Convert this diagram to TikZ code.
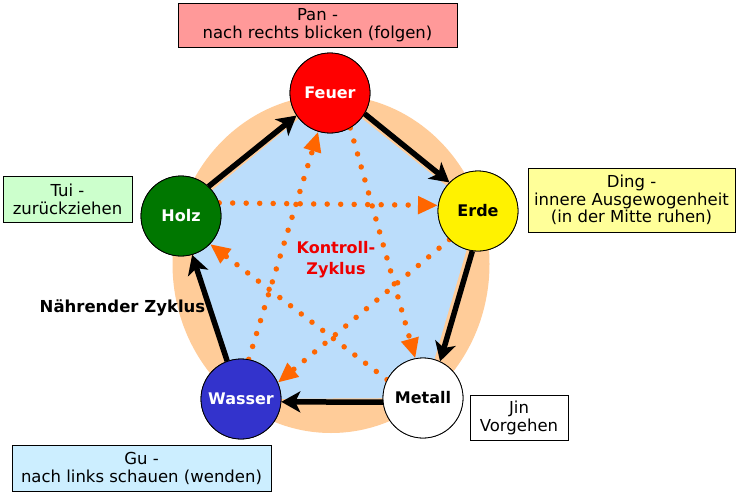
\documentclass[tikz,border=0pt]{standalone}
\usepackage{fontspec}
\setmainfont{DejaVu Sans}
\usetikzlibrary{arrows.meta}
\definecolor{peach}{HTML}{FFCC99}
\definecolor{paleblue}{RGB}{187,221,251}
\definecolor{dotorange}{HTML}{FF6600}
\definecolor{panfill}{HTML}{FF9999}
\definecolor{tuifill}{HTML}{CCFFCC}
\definecolor{dingfill}{HTML}{FFFF99}
\definecolor{gufill}{HTML}{CCEEFF}
\definecolor{wasserblue}{HTML}{3333CC}
\definecolor{holzgreen}{HTML}{007700}
\definecolor{kred}{HTML}{EE0000}
\begin{document}
\begin{tikzpicture}[x=1pt,y=-1pt,
  elem/.style={circle,draw=black,line width=0.8pt,minimum size=80pt,inner sep=0pt,
    font=\fontsize{16}{18}\selectfont\bfseries},
  lab/.style={draw=black,line width=0.8pt,align=center,inner sep=0pt,
    font=\fontsize{16.5}{18}\selectfont},
  nourish/.style={draw=black,line width=5.5pt,-{Stealth[length=19pt,width=21pt,inset=5pt]}},
  control/.style={draw=dotorange,line width=5.5pt,dash pattern=on 0pt off 13.5pt,line cap=round,
    -{Triangle[length=20pt,width=17pt]}}
]
\useasboundingbox (0,0) rectangle (744,495);
\fill[white] (0,0) rectangle (744,495);
% centres
\coordinate (cF) at (330,93);
\coordinate (cE) at (478,211);
\coordinate (cM) at (423,398);
\coordinate (cW) at (241,399);
\coordinate (cH) at (181,216);
% background shapes
\fill[peach] (331,264) ellipse [x radius=158.5pt, y radius=169pt];
\fill[paleblue] (cF) -- (cE) -- (cM) -- (cW) -- (cH) -- cycle;
% circles (named, drawn later on top)
\path (cF) node[elem,fill=red,text=white] (Feuer) {Feuer};
\path (cE) node[elem,fill=yellow,text=black] (Erde) {Erde};
\path (cM) node[elem,fill=white,text=black] (Metall) {Metall};
\path (cW) node[elem,fill=wasserblue,text=white] (Wasser) {Wasser};
\path (cH) node[elem,fill=holzgreen,text=white] (Holz) {Holz};
% control cycle
\draw[control] (Holz.19) -- (Erde.172);
\draw[control] (Feuer.-60) -- (Metall.101);
\draw[control] (Erde.-135) -- (Wasser.24);
\draw[control] (Wasser.79) -- (Feuer.-107);
\draw[control] (Metall.153) -- (Holz.-44);
% nourishing cycle
\draw[nourish] (Holz.47) -- (Feuer.-146);
\draw[nourish] (Feuer.-31) -- (Erde.135);
\draw[nourish] (Erde.-98) -- (Metall.65);
\draw[nourish] (Metall.-174) -- (Wasser.-4);
\draw[nourish] (Wasser.110) -- (Holz.-74);
% redraw circles on top
\path (cF) node[elem,fill=red,text=white] {Feuer};
\path (cE) node[elem,fill=yellow,text=black] {Erde};
\path (cM) node[elem,fill=white,text=black] {Metall};
\path (cW) node[elem,fill=wasserblue,text=white] {Wasser};
\path (cH) node[elem,fill=holzgreen,text=white] {Holz};
% texts
\node[align=center,text=kred,font=\fontsize{16}{21}\selectfont\bfseries] (kz) at (336,260) {Kontroll-\\Zyklus};
\node[font=\fontsize{16.5}{18}\selectfont\bfseries] (nz) at (122.5,308) {Nährender Zyklus};
% label boxes
\node[lab,fill=panfill,minimum width=279pt,minimum height=44pt] (pan) at (317.5,25) {Pan -\\nach rechts blicken (folgen)};
\node[lab,fill=tuifill,minimum width=129pt,minimum height=46pt] (tui) at (67.5,199) {Tui -\\zurückziehen};
\node[lab,fill=dingfill,minimum width=207pt,minimum height=64pt,font=\fontsize{16.5}{17.5}\selectfont] (ding) at (631.5,200) {Ding -\\innere Ausgewogenheit\\(in der Mitte ruhen)};
\node[lab,fill=white,minimum width=98pt,minimum height=45pt] (jin) at (519,417.5) {Jin\\Vorgehen};
\node[lab,fill=gufill,minimum width=259pt,minimum height=46pt] (gu) at (141.5,468) {Gu -\\nach links schauen (wenden)};
\end{tikzpicture}
\end{document}
